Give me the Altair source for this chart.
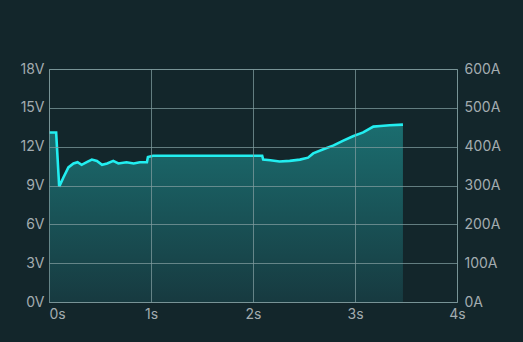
import altair as alt
import pandas as pd

# time (s) and voltage (V)
t = [0.00, 0.07, 0.10, 0.14, 0.19, 0.24, 0.28, 0.32, 0.37, 0.42, 0.47, 0.52, 0.57, 0.63, 0.68, 0.76, 0.83, 0.89, 0.96, 0.97,
     1.02, 1.20, 1.40, 1.60, 1.80, 2.00, 2.09, 2.10, 2.17, 2.26, 2.36, 2.46, 2.54, 2.59, 2.69, 2.79, 2.88, 2.98, 3.08, 3.18, 3.25, 3.34, 3.47]
v = [13.1, 13.1, 8.9, 9.6, 10.4, 10.7, 10.8, 10.6, 10.8, 11.0, 10.9, 10.6, 10.7, 10.9, 10.7, 10.8, 10.7, 10.8, 10.8, 11.2,
     11.3, 11.3, 11.3, 11.3, 11.3, 11.3, 11.3, 11.0, 10.95, 10.85, 10.9, 11.0, 11.15, 11.48, 11.8, 12.1, 12.45, 12.8, 13.1, 13.55, 13.6, 13.65, 13.7]

x_ticks = [0, 1, 2, 3, 4]
v_ticks = [0, 3, 6, 9, 12, 15, 18]
a_ticks = [0, 100, 200, 300, 400, 500, 600]

df = pd.DataFrame({"t": t, "v": v})
df["a"] = df["v"] * 600 / 18

FONT = "Inter"
LABEL = "#a3acb0"
GRID = "#7f9b9e"
FS = 14

x = alt.X("t:Q", scale=alt.Scale(domain=[0, 4], nice=False),
          axis=alt.Axis(values=x_ticks, labelExpr="datum.value + 's'", title=None,
                        grid=True, gridColor=GRID, gridOpacity=0.75, domain=False, ticks=False,
                        labelColor=LABEL, labelFont=FONT, labelFontSize=FS, labelPadding=5,
                        labelAlign={"expr": "datum.value == 0 ? 'left' : 'center'"},
                        labelFlush=False, labelOverlap=False, zindex=1))

y = alt.Y("v:Q", scale=alt.Scale(domain=[0, 18], nice=False),
          axis=alt.Axis(values=v_ticks, labelExpr="datum.value + 'V'", title=None,
                        grid=True, gridColor=GRID, gridOpacity=0.75, domain=False, ticks=False,
                        labelColor=LABEL, labelFont=FONT, labelFontSize=FS, labelPadding=5,
                        labelFlush=False, labelOverlap=False, zindex=1))

area = alt.Chart(df).mark_area(
    interpolate="linear",
    color=alt.Gradient(gradient="linear", x1=0, x2=0, y1=0, y2=1,
                       stops=[alt.GradientStop(color="#1b6d6f", offset=0),
                              alt.GradientStop(color="#173a40", offset=1)])
).encode(x=x, y=y)

line = alt.Chart(df).mark_line(color="#22eef0", strokeWidth=2.6, interpolate="linear").encode(
    x=x, y=y)

right = alt.Chart(df).mark_point(opacity=0).encode(
    x=x,
    y=alt.Y("a:Q", scale=alt.Scale(domain=[0, 600], nice=False),
            axis=alt.Axis(orient="right", values=a_ticks, labelExpr="datum.value + 'A'", title=None,
                          grid=False, domain=False, ticks=False,
                          labelColor=LABEL, labelFont=FONT, labelFontSize=FS, labelPadding=7,
                          labelFlush=False, labelOverlap=False)),
)

chart = alt.layer(alt.layer(area, line), right).resolve_scale(y="independent").properties(
    width=408, height=233,
    background="#13262b",
    padding={"left": 49, "top": 69, "right": 66, "bottom": 40},
    autosize=alt.AutoSizeParams(type="none"),
).configure_view(stroke=GRID, strokeOpacity=0.75)

chart.save("out.html", embed_options={"renderer": "svg", "actions": False})
